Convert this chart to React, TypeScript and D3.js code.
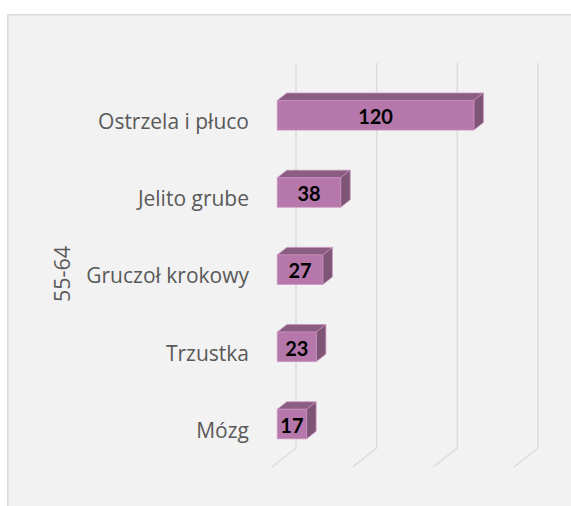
import React from 'react';
import * as d3 from 'd3';

const categories = ['Ostrzela i płuco', 'Jelito grube', 'Gruczoł krokowy', 'Trzustka', 'Mózg'];
const values = [120, 38, 27, 23, 17];
const ticks = [0, 50, 100, 150];
const groupLabel = '55-64';

const W = 571;
const H = 506;
const depthX = 9.5;
const depthY = 7.5;

const App = () => {
  // gridlines sit on the back wall, bars a bit in front of it
  const gridX = d3.scaleLinear().domain([0, 150]).range([296, 538]);
  const barX = d3.scaleLinear().domain([0, 150]).range([279, 522.6]);
  const y = d3.scaleBand().domain(categories).range([93, 438.8]).paddingInner(0.52).paddingOuter(0);
  const wallTop = 63;
  const wallBottom = 448;
  const floorDrop = 19;
  const floorRun = 24;

  return (
    <svg
      width={W}
      height={H}
      style={{ position: 'absolute', left: 0, top: 0 }}
      fontFamily="'Open Sans', sans-serif"
    >
      <rect x={7} y={14} width={W} height={H} fill="#f2f2f2" />
      <path d={`M${W},14.7H7.9V${H}`} fill="none" stroke="#dadada" strokeWidth={1.6} />
      {ticks.map(t => (
        <path
          key={t}
          d={`M${gridX(t)},${wallTop}V${wallBottom}l${-floorRun},${floorDrop}`}
          fill="none"
          stroke="#dcdcdc"
          strokeWidth={1.5}
        />
      ))}
      {categories.map((c, i) => {
        const x0 = barX(0) - 1.7;
        const x1 = barX(values[i]);
        const y0 = y(c)! + depthY;
        const y1 = y(c)! + y.bandwidth();
        return (
          <g key={c}>
            <g stroke="#c88fbc" strokeWidth={0.7} strokeLinejoin="round">
              <path
                d={`M${x0},${y0}l${depthX},${-depthY}H${x1 + depthX}l${-depthX},${depthY}Z`}
                fill="#8b5d83"
              />
              <path
                d={`M${x1},${y0}l${depthX},${-depthY}V${y1 - depthY}l${-depthX},${depthY}Z`}
                fill="#7e5577"
              />
              <rect x={x0} y={y0} width={x1 - x0} height={y1 - y0} fill="#b678ab" />
            </g>
            <text
              x={(x0 + x1) / 2}
              y={y1 - 6}
              textAnchor="middle"
              fontFamily="Lato, sans-serif"
              fontSize={20}
              fontWeight="bold"
              fill="#000"
            >
              {values[i]}
            </text>
            <text x={249} y={y1 - 1} textAnchor="end" fontSize={21} fill="#595959">
              {c}
            </text>
          </g>
        );
      })}
      <text
        transform="translate(69.5,274) rotate(-90)"
        textAnchor="middle"
        fontSize={21.5}
        fill="#595959"
      >
        {groupLabel}
      </text>
    </svg>
  );
};

export default App;
